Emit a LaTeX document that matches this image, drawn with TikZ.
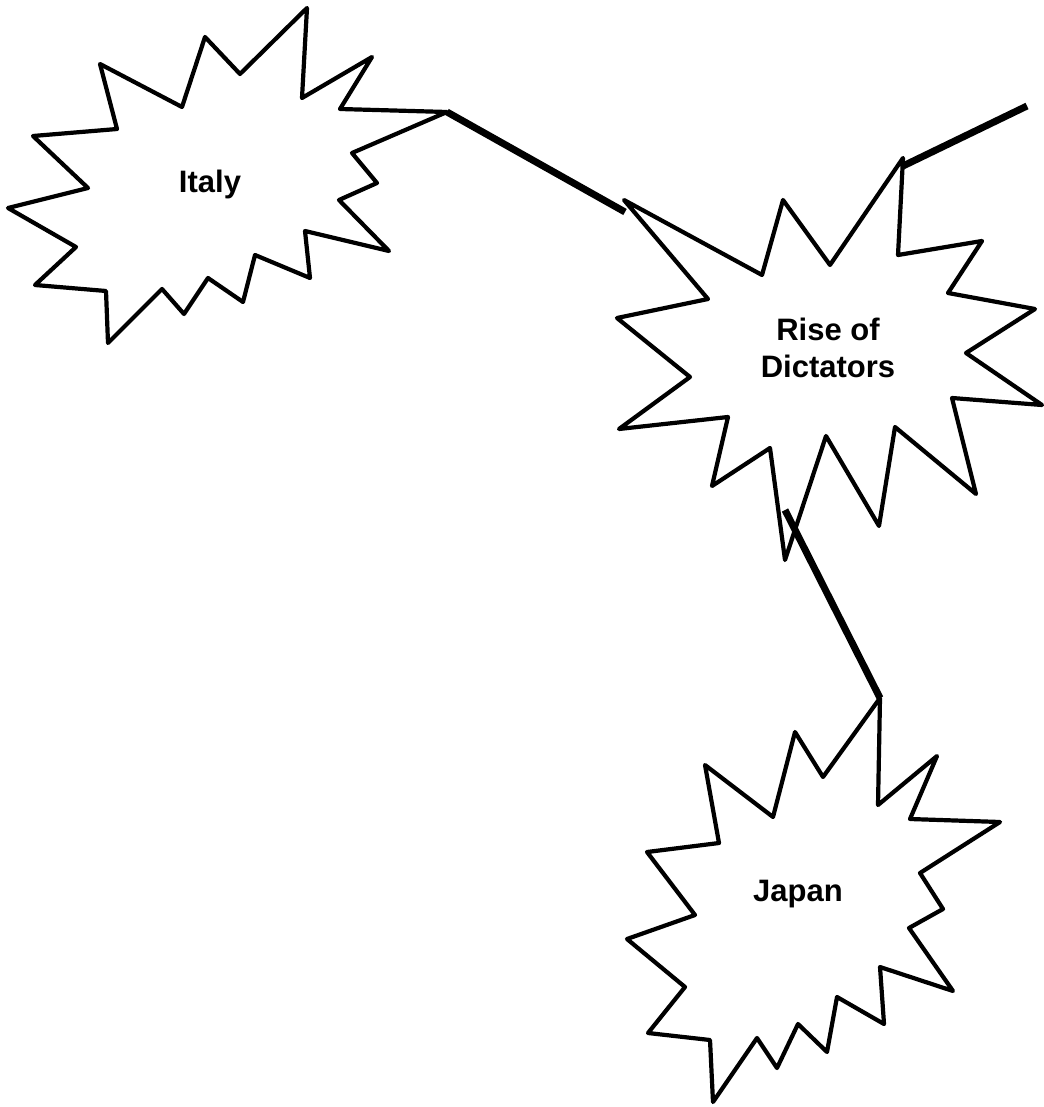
\documentclass[tikz,border=0pt]{standalone}
\usepackage{fontspec}
\setmainfont{Liberation Sans}
\begin{document}
\begin{tikzpicture}[x=1pt,y=-1pt,
  starline/.style={draw=black,line width=4.2pt,line join=round,fill=white},
  link/.style={draw=black,line width=7pt},
  lbl/.style={font=\fontsize{31}{37}\selectfont\bfseries,align=center,inner sep=0pt}]
\useasboundingbox (0,0) rectangle (1043,1107);
% Italy
\draw[starline] (307,8)--(302,98)--(372,57)--(340,109)--(447,112)--(352,153)--(377,183)--(339,200)--(389,251)--(305,231)--(310,278)--(255,255)--(243,302)--(208,278)--(184,314)--(162,289)--(108,343)--(106,291)--(35,285)--(76,247)--(8,208)--(88,188)--(33,136)--(117,129)--(100,64)--(182,107)--(205,37)--(240,74)--cycle;
% Rise of Dictators
\draw[starline] (624,200)--(762,275)--(783,200)--(830,265)--(903,158)--(898,255)--(982,241)--(948,293)--(1035,309)--(966,353)--(1042,405)--(952,398)--(976,494)--(895,427)--(879,526)--(826,436)--(785,560)--(770,448)--(712,486)--(728,417)--(619,429)--(690,377)--(617,318)--(708,299)--cycle;
% Japan
\draw[starline] (880,698)--(878,805)--(937,756)--(910,819)--(1000,822)--(920,873)--(943,909)--(909,928)--(953,991)--(880,967)--(884,1024)--(837,997)--(827,1052)--(798,1024)--(777,1068)--(757,1038)--(713,1102)--(710,1040)--(648,1033)--(685,987)--(627,939)--(695,915)--(647,852)--(719,843)--(705,765)--(773,817)--(795,732)--(823,777)--cycle;
% labels
\node[lbl,anchor=base] (italy) at (210,193) {Italy};
\node[lbl,anchor=base] (rise1) at (828,340) {Rise of};
\node[lbl,anchor=base] (rise2) at (828,377) {Dictators};
\node[lbl,anchor=base] (japan) at (798,901) {Japan};
% connector ends
\coordinate (itTip) at (447,112);
\coordinate (riseTL) at (625,212);
\coordinate (riseTR) at (903,166);
\coordinate (freeEnd) at (1027,106);
\coordinate (riseB) at (785,510);
\coordinate (jpTop) at (880,698);
\draw[link] (itTip) -- (riseTL);
\draw[link] (riseTR) -- (freeEnd);
\draw[link] (riseB) -- (jpTop);
\end{tikzpicture}
\end{document}
